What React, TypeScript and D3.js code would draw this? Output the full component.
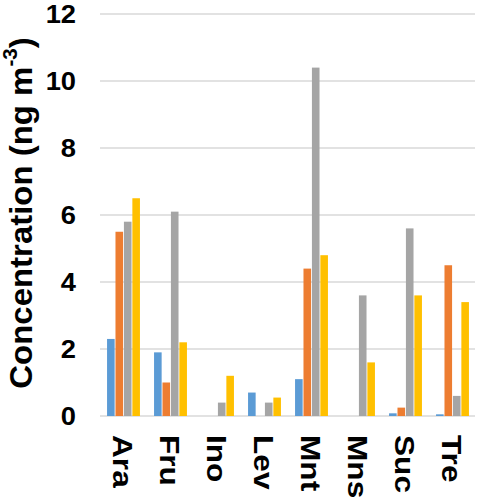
import React from "react";
import * as d3 from "d3";

const categories = ["Ara", "Fru", "Ino", "Lev", "Mnt", "Mns", "Suc", "Tre"];
const seriesNames = ["S1", "S2", "S3", "S4"];
const s1 = [2.3, 1.9, 0, 0.7, 1.1, 0, 0.08, 0.05];
const s2 = [5.5, 1.0, 0, 0, 4.4, 0, 0.25, 4.5];
const s3 = [5.8, 6.1, 0.4, 0.4, 10.4, 3.6, 5.6, 0.6];
const s4 = [6.5, 2.2, 1.2, 0.55, 4.8, 1.6, 3.6, 3.4];
const seriesColors = ["#5B9BD5", "#ED7D31", "#A5A5A5", "#FFC000"];
const yTicks = [0, 2, 4, 6, 8, 10, 12];

const W = 477;
const H = 498;
const FONT = "'Liberation Sans', Arial, sans-serif";

export default function App() {
  const series = [s1, s2, s3, s4];
  const x = d3.scaleBand<string>().domain(categories).range([100, 476]).paddingInner(0.3).paddingOuter(0.15);
  const xi = d3.scaleBand<string>().domain(seriesNames).range([0, x.bandwidth()]).paddingInner(0.1);
  const y = d3.scaleLinear().domain([0, 12]).range([416, 14]);

  return (
    <svg width={W} height={H} style={{ position: "absolute", left: 0, top: 0 }} fontFamily={FONT}>
      <rect width={W} height={H} fill="#ffffff" />
      {yTicks.map((t) => (
        <g key={t}>
          <line x1={100} x2={475} y1={y(t)} y2={y(t)} stroke="#d9d9d9" strokeWidth={1.5} />
          <text x={76} y={y(t)} textAnchor="end" dominantBaseline="central" fontSize={26} fontWeight="bold" fill="#000" transform={`translate(76,0) scale(1.05,1) translate(-76,0)`}>
            {t}
          </text>
        </g>
      ))}
      {categories.map((c, i) => (
        <g key={c}>
          {series.map((s, j) =>
            s[i] > 0 ? (
              <rect
                key={j}
                x={(x(c) as number) + (xi(seriesNames[j]) as number)}
                y={y(s[i])}
                width={xi.bandwidth()}
                height={y(0) - y(s[i])}
                fill={seriesColors[j]}
              />
            ) : null
          )}
          <text
            transform={`translate(${(x(c) as number) + x.bandwidth() / 2 - 1},435) rotate(90) scale(1.13,1)`}
            textAnchor="start"
            dominantBaseline="central"
            fontSize={28}
            fontWeight="bold"
            fill="#000"
          >
            {c}
          </text>
        </g>
      ))}
      <text
        transform="translate(21,213) rotate(-90) scale(1.03,1)"
        textAnchor="middle"
        dominantBaseline="central"
        fontSize={32}
        fontWeight="bold"
        fill="#000"
      >
        Concentration (ng m
        <tspan fontSize={20} dy={-11}>-3</tspan>
        <tspan dy={11}>)</tspan>
      </text>
    </svg>
  );
}
